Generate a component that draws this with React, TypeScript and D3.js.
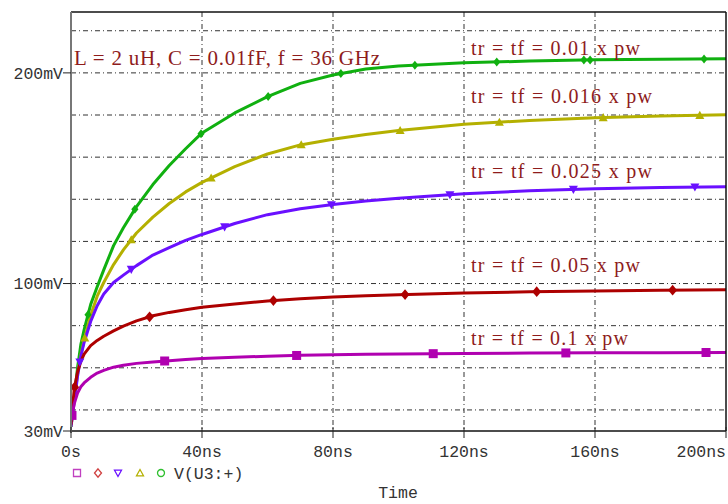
import React from "react";
import * as d3 from "d3";

const times = [0, 1, 2, 3, 4, 6, 8, 10, 13, 16, 20, 25, 30, 35, 40, 50, 60, 70, 80, 90, 100, 120, 140, 160, 180, 200];
const greenV = [32, 46, 60, 71, 78, 90, 98.5, 106.5, 118, 126.5, 136.5, 147, 156, 164, 171.5, 181, 188.7, 195, 199, 201.8, 203.3, 204.8, 205.6, 206.2, 206.5, 206.7];
const oliveV = [32, 45, 57, 66, 73, 85, 94, 100.5, 109, 116, 124, 131.5, 138, 143.5, 148, 155.5, 161.5, 165.8, 168.5, 170.8, 172.6, 175.6, 177.4, 178.7, 179.5, 180.1];
const blueV = [32, 44, 56, 65.5, 72, 82, 89.5, 95, 100.5, 104, 108.5, 113.5, 117, 120.5, 123.3, 128.5, 132.7, 135.5, 137.5, 139.2, 140.5, 142.6, 144, 145, 145.6, 146];
const redV = [33, 50, 58, 63, 66.5, 70.5, 73, 75, 77.5, 79.8, 82.3, 84.7, 86.3, 87.6, 88.7, 90.3, 91.7, 92.8, 93.6, 94.2, 94.7, 95.5, 96.1, 96.5, 96.8, 97];
const magentaV = [35, 43, 48, 51, 52.8, 55.5, 57.5, 58.8, 60.3, 61.2, 62.1, 62.8, 63.4, 63.9, 64.4, 65, 65.5, 65.9, 66.2, 66.4, 66.6, 66.8, 67, 67.1, 67.2, 67.3];

const greenMarkers = [5.2, 19.5, 39.7, 60.2, 82.4, 105, 130, 156.6, 158.5, 193.3];
const oliveMarkers = [4.2, 18.4, 42.8, 70.3, 100.5, 130.8, 162.5, 192];
const blueMarkers = [2.7, 18.4, 46.9, 79.5, 115.7, 153.4, 190.5];
const redMarkers = [1.1, 24, 61.8, 102, 142.2, 183.7];
const magentaMarkers = [0.3, 28.6, 68.9, 110.6, 151.1, 193.9];

const seriesLabels = ["tr = tf = 0.01 x pw", "tr = tf = 0.016 x pw", "tr = tf = 0.025 x pw", "tr = tf = 0.05 x pw", "tr = tf = 0.1 x pw"];
const annotation = "L = 2 uH, C = 0.01fF, f = 36 GHz";
const xTicks = [0, 40, 80, 120, 160, 200];
const xTickLabels = ["0s", "40ns", "80ns", "120ns", "160ns", "200ns"];
const yTicks = [30, 100, 200];
const yTickLabels = ["30mV", "100mV", "200mV"];
const yGrid = [40, 60, 80, 100, 120, 140, 160, 180, 200, 220];
const xGrid = [40, 80, 120, 160];
const legendName = "V(U3:+)";

const W = 728, H = 504;
const L = 71, R = 726, T = 12, B = 431;

const x = d3.scaleLinear().domain([0, 200]).range([L, R]);
const y = d3.scaleLinear().domain([30, 228.9]).range([B, T]);

type Sym = "square" | "diamond" | "down" | "up" | "smalldiamond" | "circle";

const series = [
  { v: greenV, m: greenMarkers, color: "#10b010", sym: "smalldiamond" as Sym, label: seriesLabels[0], lx: 471, ly: 55, lw: 169 },
  { v: oliveV, m: oliveMarkers, color: "#b4b000", sym: "up" as Sym, label: seriesLabels[1], lx: 471, ly: 103, lw: 181 },
  { v: blueV, m: blueMarkers, color: "#6a10ff", sym: "down" as Sym, label: seriesLabels[2], lx: 471, ly: 178, lw: 181 },
  { v: redV, m: redMarkers, color: "#ad0000", sym: "diamond" as Sym, label: seriesLabels[3], lx: 471, ly: 272, lw: 169 },
  { v: magentaV, m: magentaMarkers, color: "#b000b0", sym: "square" as Sym, label: seriesLabels[4], lx: 471, ly: 345, lw: 157 },
];

function interp(vals: number[], t: number) {
  const f = d3.scaleLinear().domain(times).range(vals);
  return f(t);
}

function symPath(s: Sym, r: number) {
  switch (s) {
    case "square": return `M${-r},${-r}H${r}V${r}H${-r}Z`;
    case "diamond": return `M0,${-r * 1.2}L${r},0L0,${r * 1.2}L${-r},0Z`;
    case "smalldiamond": return `M0,${-r}L${r * 0.8},0L0,${r}L${-r * 0.8},0Z`;
    case "down": return `M${-r},${-r * 0.8}H${r}L0,${r}Z`;
    case "up": return `M${-r},${r * 0.8}H${r}L0,${-r}Z`;
    case "circle": return d3.symbol(d3.symbolCircle, r * r * 3.14)() || "";
  }
}

const mono = "'Liberation Mono', 'Courier New', monospace";
const serif = "'Liberation Serif', 'Times New Roman', serif";
const annoColor = "#8e1c1c";

export default function App() {
  const line = d3.line<number>().x((_, i) => x(times[i])).y((d) => y(d));
  const legendSyms: { s: Sym; c: string; cx: number }[] = [
    { s: "square", c: "#c040c0", cx: 77 },
    { s: "diamond", c: "#d04040", cx: 98 },
    { s: "down", c: "#6a10ff", cx: 118 },
    { s: "up", c: "#b4b000", cx: 140 },
    { s: "circle", c: "#30c030", cx: 161 },
  ];
  return (
    <svg width={W} height={H} style={{ position: "absolute", left: 0, top: 0, background: "#fff" }}>
      <defs>
        <clipPath id="plot"><rect x={L} y={T} width={R - L} height={B - T} /></clipPath>
      </defs>
      <rect x={0} y={0} width={W} height={H} fill="#fff" />
      {/* grid */}
      {yGrid.map((g) => (
        <line key={"yg" + g} x1={L} x2={R} y1={y(g)} y2={y(g)} stroke="#333" strokeWidth={1} strokeDasharray="5,3,1,3" />
      ))}
      {xGrid.map((g) => (
        <line key={"xg" + g} x1={x(g)} x2={x(g)} y1={T} y2={B} stroke="#333" strokeWidth={1} strokeDasharray="5,3,1,3" />
      ))}
      {/* curves */}
      <g clipPath="url(#plot)">
        {series.map((s, i) => (
          <path key={"c" + i} d={line(s.v) || ""} fill="none" stroke={s.color} strokeWidth={3} strokeLinejoin="round" />
        ))}
        {series.map((s, i) =>
          s.m.map((t, j) => (
            <path key={"m" + i + "-" + j} d={symPath(s.sym, 4.5)}
              transform={`translate(${x(t)},${y(interp(s.v, t))})`} fill={s.color} />
          ))
        )}
      </g>
      {/* frame */}
      <line x1={L} x2={R} y1={T} y2={T} stroke="#111" strokeWidth={1.5} />
      <line x1={R} x2={R} y1={T} y2={B} stroke="#111" strokeWidth={1.5} />
      <line x1={L} x2={R} y1={B} y2={B} stroke="#111" strokeWidth={1.5} />
      <line x1={L} x2={L} y1={T} y2={B + 2} stroke="#777" strokeWidth={2} />
      {/* y ticks */}
      {yTicks.map((t, i) => (
        <g key={"yt" + t}>
          <line x1={L - 8} x2={L} y1={y(t)} y2={y(t)} stroke="#222" strokeWidth={1} />
          <text x={L - 8} y={y(t)} dy="0.35em" textAnchor="end" fontFamily={mono} fontSize={16.5} fill="#333">{yTickLabels[i]}</text>
        </g>
      ))}
      {/* x ticks */}
      {xTicks.map((t, i) => {
        const last = i === xTicks.length - 1;
        return (
          <g key={"xt" + t}>
            <line x1={x(t)} x2={x(t)} y1={B - 4} y2={B + 7} stroke="#222" strokeWidth={1} />
            <text x={last ? x(t) : x(t)} y={457} textAnchor={last ? "end" : "middle"} fontFamily={mono} fontSize={16.5} fill="#333">{xTickLabels[i]}</text>
          </g>
        );
      })}
      {/* legend */}
      {legendSyms.map((l, i) => (
        <path key={"ls" + i} d={symPath(l.s, 3.5)} transform={`translate(${l.cx},${473})`} fill="none" stroke={l.c} strokeWidth={1.3} />
      ))}
      <text x={174} y={479} fontFamily={mono} fontSize={16.5} fill="#333">{legendName}</text>
      <text x={398} y={498} textAnchor="middle" fontFamily={mono} fontSize={16.5} fill="#333">Time</text>
      {/* annotations */}
      <text x={74} y={65} fontFamily={serif} fontSize={21} fill={annoColor} textLength={306} lengthAdjust="spacing">{annotation}</text>
      {series.map((s, i) => (
        <text key={"lab" + i} x={s.lx} y={s.ly} fontFamily={serif} fontSize={20} fill={annoColor} textLength={s.lw} lengthAdjust="spacing">{s.label}</text>
      ))}
    </svg>
  );
}
